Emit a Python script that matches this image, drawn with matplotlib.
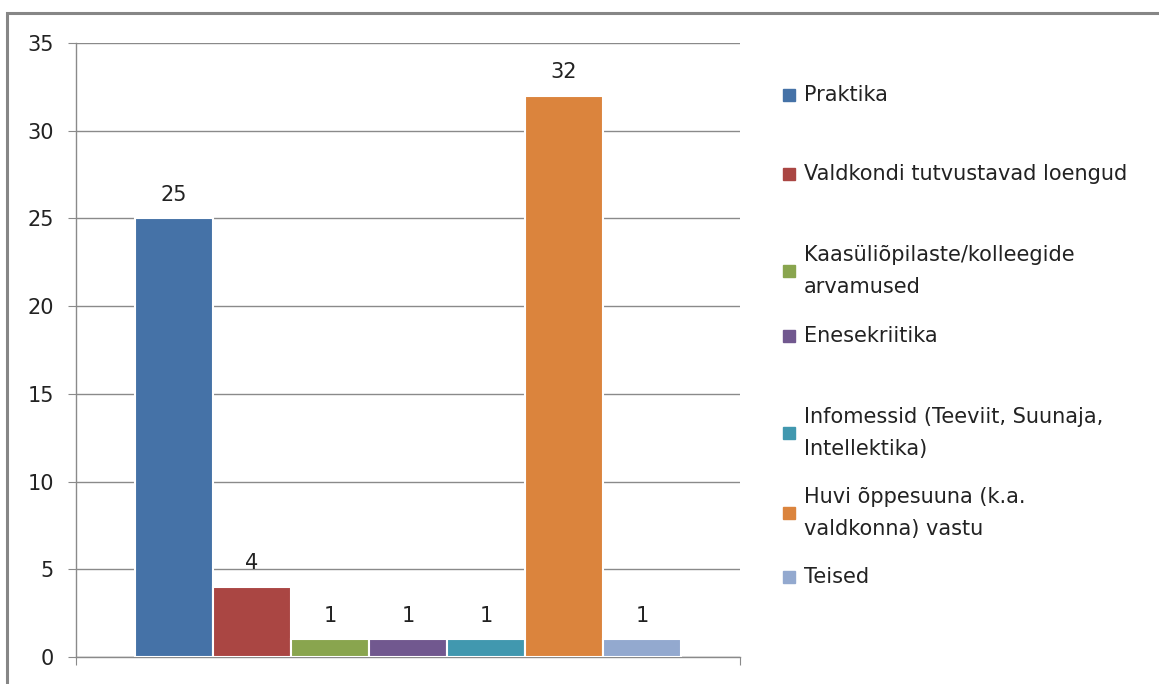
import numpy as np
import matplotlib.pyplot as plt
from matplotlib.patches import Rectangle

plt.rcParams['font.family'] = ['DejaVu Sans']

# data
labels = ['Praktika', 'Valdkondi tutvustavad loengud',
          'Kaasüliõpilaste/kolleegide\narvamused', 'Enesekriitika',
          'Infomessid (Teeviit, Suunaja,\nIntellektika)',
          'Huvi õppesuuna (k.a.\nvaldkonna) vastu', 'Teised']
values = [25, 4, 1, 1, 1, 32, 1]
colors = ['#4572A7', '#AA4643', '#89A54E', '#71588F', '#4198AF', '#DB843D', '#93A9CF']
yticks = [0, 5, 10, 15, 20, 25, 30, 35]

W, H = 1159, 684
fig = plt.figure(figsize=(W / 100, H / 100), dpi=100)

# chart frame
fig.patches.append(Rectangle((7 / W, -0.05), 1.1, 1 - 13 / H + 0.05, transform=fig.transFigure,
                             fill=False, edgecolor='#868686', linewidth=2.2, zorder=0))

ax = fig.add_axes([76 / W, 1 - 657 / H, (740 - 76) / W, (657 - 43) / H])
grid_c = '#8a8a8a'
fs = 15

x = np.arange(len(values))
ax.bar(x, values, width=1.0, color=colors, edgecolor='white', linewidth=1.5, zorder=3)
for xi, v in zip(x, values):
    ax.annotate(str(v), (xi, v), xytext=(0, 10), textcoords='offset points',
                ha='center', va='bottom', fontsize=fs, color='#222222')

ax.set_ylim(0, 35)
ax.set_xlim(-1.257, len(values) - 1 + 1.257)
ax.set_yticks(yticks)
ax.set_xticks([-1.257, len(values) - 1 + 1.257])
ax.set_xticklabels([])
ax.yaxis.grid(True, color=grid_c, linewidth=1.0, zorder=0)
ax.tick_params(axis='y', length=6, color=grid_c, labelsize=fs, labelcolor='#222222', pad=10)
ax.tick_params(axis='x', length=6, color=grid_c)
for s in ['top', 'right']:
    ax.spines[s].set_visible(False)
for s in ['left', 'bottom']:
    ax.spines[s].set_color(grid_c)
    ax.spines[s].set_linewidth(1.0)

# legend drawn by hand
leg_y = [95, 174, 271, 336, 433, 513, 577]
for lab, c, yy in zip(labels, colors, leg_y):
    fig.patches.append(Rectangle((783 / W, 1 - (yy + 6) / H), 12 / W, 12 / H,
                                 transform=fig.transFigure, color=c))
    fig.text(804 / W, 1 - yy / H, lab, ha='left', va='center', fontsize=fs,
             color='#222222', linespacing=1.8)

fig.savefig('out.png', dpi=100)
